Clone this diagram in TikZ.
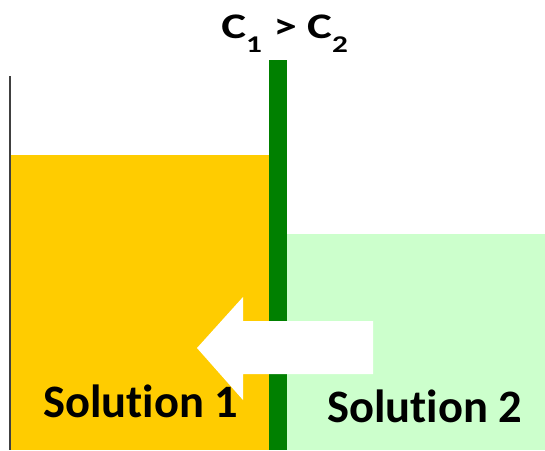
\documentclass[tikz,border=0pt]{standalone}
\usepackage{fontspec}
\setmainfont{Carlito}[Ligatures={NoCommon}]
\definecolor{soloneyellow}{HTML}{FFCC00}
\definecolor{membranegreen}{HTML}{008000}
\definecolor{soltwogreen}{HTML}{CCFFCC}
\newcommand{\concsub}[1]{\raisebox{-14pt}{\fontsize{24}{24}\selectfont #1}}
\begin{document}
\begin{tikzpicture}[x=1pt,y=-1pt,
    label text/.style={font=\bfseries\fontsize{46.5}{50}\selectfont, inner sep=0pt, anchor=base west}]
    \useasboundingbox (0,0) rectangle (545,450);
    % Solution 1 (left side)
    \fill[soloneyellow] (11,155) rectangle (269,450);
    % Solution 2 (right side)
    \fill[soltwogreen] (287,234) rectangle (545,450);
    % Container wall
    \draw[black!75, line width=2pt] (10,76) -- (10,450);
    % Membrane
    \fill[membranegreen] (269,60) rectangle (287,450);
    % Flow arrow
    \fill[white] (373,321) -- (243,321) -- (243,297) -- (197,348)
        -- (243,400) -- (243,374) -- (373,374) -- cycle;
    % Labels
    \node[label text] (sol1) at (43,417) {Solution 1};
    \node[label text] (sol2) at (327,422) {Solution 2};
    \node[label text, font=\bfseries\fontsize{36}{40}\selectfont, xscale=1.3] (conc) at (221,38)
        {C\concsub{1}\hspace{9pt}>\hspace{8pt}C\concsub{2}};
\end{tikzpicture}
\end{document}
